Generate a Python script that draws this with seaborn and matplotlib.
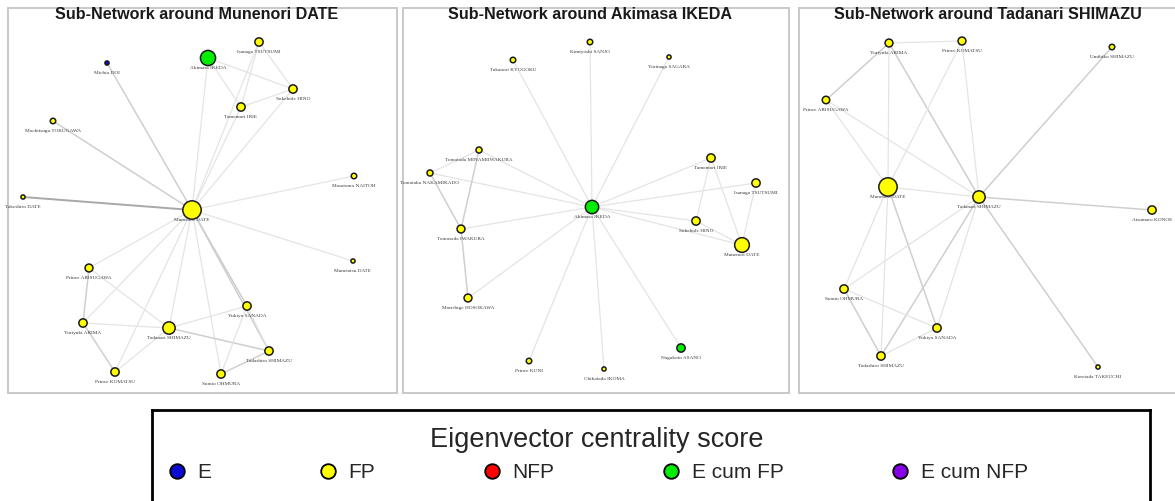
import numpy as np
import pandas as pd
import matplotlib
matplotlib.use("Agg")
import matplotlib.pyplot as plt
import seaborn as sns
from matplotlib.lines import Line2D

sns.set_theme(style="white")
plt.rcParams['font.family'] = ['Liberation Sans', 'DejaVu Sans']

# ---------------- data ----------------
categories = ["E", "FP", "NFP", "E cum FP", "E cum NFP"]
category_colors = ["#0a0ad2", "#ffff00", "#ff0000", "#00ee00", "#8800e8"]

titles = ["Sub-Network around Munenori DATE",
          "Sub-Network around Akimasa IKEDA",
          "Sub-Network around Tadanari SHIMAZU"]

# Panel 1 (layout positions in panel units, y downward)
p1_names = ["Michio DOI", "Akimasa IKEDA", "Isanaga TSUTSUMI", "Sukehide HINO",
            "Tamemori IRIE", "Mochitsugu TOKUGAWA", "Masatomo NAITOH",
            "Takeshiro DATE", "Munenori DATE", "Munetatsu DATE",
            "Prince ARISUGAWA", "Yukiyo SANADA", "Yoriyuki ARIMA",
            "Tadanari SHIMAZU", "Tadashiro SHIMAZU", "Prince KOMATSU",
            "Sumio OHMURA"]
p1_x = [99, 200, 251, 285, 233, 45, 346, 15, 184, 345, 81, 239, 75, 161, 261, 107, 213]
p1_y = [55, 50, 34, 81, 99, 113, 168, 189, 202, 253, 260, 298, 315, 320, 343, 364, 366]
p1_cat = ["E", "E cum FP", "FP", "FP", "FP", "FP", "FP", "FP", "FP", "FP",
          "FP", "FP", "FP", "FP", "FP", "FP", "FP"]
p1_score = [0.0, 0.66, 0.16, 0.16, 0.16, 0.04, 0.04, 0.0, 1.0, 0.0,
            0.14, 0.16, 0.16, 0.42, 0.16, 0.16, 0.16]
p1_edges = [
    ("Munenori DATE", "Michio DOI", 2), ("Munenori DATE", "Akimasa IKEDA", 1),
    ("Munenori DATE", "Isanaga TSUTSUMI", 1), ("Munenori DATE", "Tamemori IRIE", 1),
    ("Munenori DATE", "Sukehide HINO", 1), ("Munenori DATE", "Mochitsugu TOKUGAWA", 2),
    ("Munenori DATE", "Masatomo NAITOH", 1), ("Munenori DATE", "Takeshiro DATE", 3),
    ("Munenori DATE", "Munetatsu DATE", 1), ("Munenori DATE", "Prince ARISUGAWA", 1),
    ("Munenori DATE", "Yoriyuki ARIMA", 1), ("Munenori DATE", "Tadanari SHIMAZU", 1),
    ("Munenori DATE", "Yukiyo SANADA", 2), ("Munenori DATE", "Tadashiro SHIMAZU", 2),
    ("Munenori DATE", "Prince KOMATSU", 1), ("Munenori DATE", "Sumio OHMURA", 1),
    ("Akimasa IKEDA", "Tamemori IRIE", 1), ("Akimasa IKEDA", "Sukehide HINO", 1),
    ("Isanaga TSUTSUMI", "Tamemori IRIE", 1), ("Isanaga TSUTSUMI", "Sukehide HINO", 1),
    ("Tamemori IRIE", "Sukehide HINO", 1),
    ("Prince ARISUGAWA", "Yoriyuki ARIMA", 2), ("Prince ARISUGAWA", "Tadanari SHIMAZU", 1),
    ("Yoriyuki ARIMA", "Tadanari SHIMAZU", 1), ("Yoriyuki ARIMA", "Prince KOMATSU", 2),
    ("Prince KOMATSU", "Tadanari SHIMAZU", 1), ("Tadanari SHIMAZU", "Yukiyo SANADA", 1),
    ("Tadanari SHIMAZU", "Tadashiro SHIMAZU", 2), ("Yukiyo SANADA", "Tadashiro SHIMAZU", 1),
    ("Yukiyo SANADA", "Sumio OHMURA", 1), ("Sumio OHMURA", "Tadashiro SHIMAZU", 2),
]

# Panel 2
p2_names = ["Kimiyoshi SANJO", "Takanori KYOGOKU", "Yorinaga SAGARA",
            "Tomotada MINAMIIWAKURA", "Tomotaka NAKAMIKADO", "Tamemori IRIE",
            "Isanaga TSUTSUMI", "Akimasa IKEDA", "Tomosada IWAKURA",
            "Sukehide HINO", "Munenori DATE", "Morishige HOSOKAWA",
            "Nagakoto ASANO", "Prince KUNI", "Chikatada IKOMA"]
p2_x = [187, 110, 266, 76, 27, 308, 353, 189, 58, 293, 339, 65, 278, 126, 201]
p2_y = [34, 52, 49, 142, 165, 150, 175, 199, 221, 213, 237, 290, 340, 353, 361]
p2_cat = ["FP", "FP", "FP", "FP", "FP", "FP", "FP", "E cum FP", "FP",
          "FP", "FP", "FP", "E cum FP", "FP", "FP"]
p2_score = [0.04, 0.04, 0.0, 0.06, 0.06, 0.16, 0.16, 0.5, 0.14,
            0.16, 0.62, 0.14, 0.16, 0.04, 0.0]
p2_edges = [
    ("Akimasa IKEDA", "Kimiyoshi SANJO", 1), ("Akimasa IKEDA", "Takanori KYOGOKU", 1),
    ("Akimasa IKEDA", "Yorinaga SAGARA", 1), ("Akimasa IKEDA", "Tomotada MINAMIIWAKURA", 1),
    ("Akimasa IKEDA", "Tomotaka NAKAMIKADO", 1), ("Akimasa IKEDA", "Tamemori IRIE", 1),
    ("Akimasa IKEDA", "Isanaga TSUTSUMI", 1), ("Akimasa IKEDA", "Tomosada IWAKURA", 1),
    ("Akimasa IKEDA", "Sukehide HINO", 1), ("Akimasa IKEDA", "Munenori DATE", 1),
    ("Akimasa IKEDA", "Morishige HOSOKAWA", 1), ("Akimasa IKEDA", "Nagakoto ASANO", 1),
    ("Akimasa IKEDA", "Prince KUNI", 1), ("Akimasa IKEDA", "Chikatada IKOMA", 1),
    ("Tomotada MINAMIIWAKURA", "Tomotaka NAKAMIKADO", 1),
    ("Tomotada MINAMIIWAKURA", "Tomosada IWAKURA", 2),
    ("Tomotaka NAKAMIKADO", "Tomosada IWAKURA", 2),
    ("Tomosada IWAKURA", "Morishige HOSOKAWA", 2),
    ("Tamemori IRIE", "Sukehide HINO", 1), ("Tamemori IRIE", "Munenori DATE", 1),
    ("Isanaga TSUTSUMI", "Munenori DATE", 1), ("Sukehide HINO", "Munenori DATE", 1),
]

# Panel 3
p3_names = ["Yoriyuki ARIMA", "Prince KOMATSU", "Umihiko SHIMAZU",
            "Prince ARISUGAWA", "Munenori DATE", "Tadanari SHIMAZU",
            "Atsumaro KONOE", "Sumio OHMURA", "Yukiyo SANADA",
            "Tadashiro SHIMAZU", "Koretada TAKEUCHI"]
p3_x = [90, 163, 313, 27, 89, 180, 353, 45, 138, 82, 299]
p3_y = [35, 33, 39, 92, 179, 189, 202, 281, 320, 348, 359]
p3_cat = ["FP"] * 11
p3_score = [0.14, 0.14, 0.04, 0.12, 1.0, 0.42, 0.16, 0.16, 0.16, 0.16, 0.0]
p3_edges = [
    ("Yoriyuki ARIMA", "Prince KOMATSU", 1), ("Yoriyuki ARIMA", "Prince ARISUGAWA", 2),
    ("Yoriyuki ARIMA", "Munenori DATE", 1), ("Yoriyuki ARIMA", "Tadanari SHIMAZU", 2),
    ("Prince KOMATSU", "Munenori DATE", 1), ("Prince KOMATSU", "Tadanari SHIMAZU", 1),
    ("Prince ARISUGAWA", "Munenori DATE", 1), ("Prince ARISUGAWA", "Tadanari SHIMAZU", 1),
    ("Munenori DATE", "Tadanari SHIMAZU", 1), ("Tadanari SHIMAZU", "Umihiko SHIMAZU", 2),
    ("Tadanari SHIMAZU", "Atsumaro KONOE", 2), ("Tadanari SHIMAZU", "Koretada TAKEUCHI", 2),
    ("Munenori DATE", "Sumio OHMURA", 1), ("Munenori DATE", "Tadashiro SHIMAZU", 1),
    ("Munenori DATE", "Yukiyo SANADA", 2), ("Tadanari SHIMAZU", "Sumio OHMURA", 1),
    ("Tadanari SHIMAZU", "Tadashiro SHIMAZU", 2), ("Tadanari SHIMAZU", "Yukiyo SANADA", 1),
    ("Sumio OHMURA", "Tadashiro SHIMAZU", 2), ("Sumio OHMURA", "Yukiyo SANADA", 1),
    ("Yukiyo SANADA", "Tadashiro SHIMAZU", 1),
]

# ---------------- styling ----------------
edge_colors = {1: "#e4e4e4", 2: "#cfcfcf", 3: "#a8a8a8"}
edge_widths = {1: 0.9, 2: 1.1, 3: 1.4}
palette = dict(zip(categories, category_colors))

W, H = 1175, 501
fig = plt.figure(figsize=(W / 100, H / 100), dpi=100)


def panel(left, width, top=8, height=385):
    return fig.add_axes([left / W, 1 - (top + height) / H, width / W, height / H])


def draw_panel(ax, title, names, xs, ys, cats, scores, edges, width):
    df = pd.DataFrame(dict(name=names, x=xs, y=ys, cat=cats, score=scores))
    pos = df.set_index("name")
    for a, b, w in edges:
        ax.plot([pos.x[a], pos.x[b]], [pos.y[a], pos.y[b]],
                color=edge_colors[w], lw=edge_widths[w], zorder=1)
    sns.scatterplot(data=df, x="x", y="y", hue="cat", hue_order=categories,
                    palette=palette, size="score", sizes=(9, 175), size_norm=(0, 1),
                    edgecolor="#1a1a1a", linewidth=1.1, legend=False, ax=ax, zorder=3)
    for r in df.itertuples():
        ax.text(r.x, r.y + 10, r.name, ha="center", va="center",
                fontsize=3.8, family="Liberation Serif", color="#3a3a3a", zorder=4)
    ax.set_xlim(0, width)
    ax.set_ylim(385, 0)
    ax.set_xticks([])
    ax.set_yticks([])
    ax.set_xlabel("")
    ax.set_ylabel("")
    for s in ax.spines.values():
        s.set_color("#c9c9c9")
        s.set_linewidth(1.4)
    ax.text(0.485, 0.982, title, transform=ax.transAxes, ha="center", va="center",
            fontsize=11.6, fontweight="bold", color="#1a1a1a")


ax1 = panel(8, 389)
ax2 = panel(403, 386)
ax3 = panel(799, 389)
draw_panel(ax1, titles[0], p1_names, p1_x, p1_y, p1_cat, p1_score, p1_edges, 389)
draw_panel(ax2, titles[1], p2_names, p2_x, p2_y, p2_cat, p2_score, p2_edges, 386)
draw_panel(ax3, titles[2], p3_names, p3_x, p3_y, p3_cat, p3_score, p3_edges, 389)

# ---------------- legend ----------------
axl = fig.add_axes([152 / W, 1 - 530 / H, 998 / W, 120 / H])
axl.set_xticks([])
axl.set_yticks([])
axl.set_facecolor("white")
for s in axl.spines.values():
    s.set_color("black")
    s.set_linewidth(2.0)
handles = [Line2D([0], [0], marker="o", linestyle="", markersize=10.5,
                  markerfacecolor=c, markeredgecolor="black", markeredgewidth=1.3,
                  label=lab) for lab, c in zip(categories, category_colors)]
leg = axl.legend(handles=handles, title="Eigenvector centrality score", ncol=5,
                 loc="upper left", bbox_to_anchor=(0.006, 0.83, 0.88, 0.1),
                 mode="expand", frameon=False, fontsize=15, title_fontsize=19.5,
                 handletextpad=0.5, borderaxespad=0, handlelength=1.0)

fig.savefig("out.png", dpi=100, facecolor="white")
